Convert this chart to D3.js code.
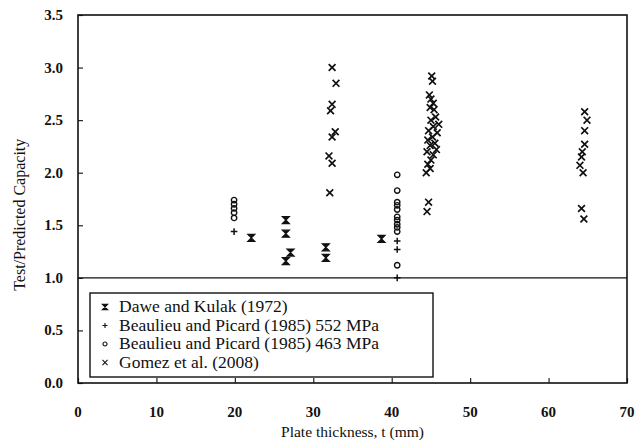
<!DOCTYPE html>
<html>
<head>
<meta charset="utf-8">
<script src="https://cdn.jsdelivr.net/npm/d3@7"></script>
<style>
  body { margin: 0; background: #fff; }
  svg text { font-family: "Liberation Serif", "Times New Roman", serif; fill: #111; }
</style>
</head>
<body>
<svg id="chart" width="640" height="447"></svg>
<script>
// data: [plate thickness (mm), test/predicted capacity]
const daweKulak = [
  [22.1, 1.38], [26.5, 1.55], [26.5, 1.42], [27.1, 1.24], [26.5, 1.16],
  [31.6, 1.29], [31.6, 1.19], [38.7, 1.37]
];
const beaulieu552 = [
  [19.9, 1.44], [40.7, 1.35], [40.7, 1.27], [40.7, 1.00]
];
const beaulieu463 = [
  [19.9, 1.74], [19.9, 1.70], [19.9, 1.66], [19.9, 1.62], [19.9, 1.57],
  [40.7, 1.98], [40.7, 1.83], [40.7, 1.72], [40.7, 1.69], [40.7, 1.65],
  [40.7, 1.58], [40.7, 1.55], [40.7, 1.51], [40.7, 1.48], [40.7, 1.44],
  [40.7, 1.12]
];
const gomez = [
  [32.4, 3.00], [32.9, 2.85], [32.4, 2.65], [32.2, 2.59], [32.8, 2.39],
  [32.4, 2.34], [32.0, 2.16], [32.4, 2.09], [32.1, 1.81],
  [45.1, 2.92], [45.2, 2.87], [44.8, 2.74], [45.0, 2.70], [45.3, 2.66],
  [44.9, 2.62], [45.4, 2.60], [45.6, 2.53], [45.0, 2.50], [46.0, 2.46],
  [45.3, 2.44], [44.7, 2.40], [45.8, 2.38], [45.2, 2.34], [44.6, 2.31],
  [45.5, 2.28], [44.9, 2.26], [45.7, 2.22], [44.5, 2.20], [45.3, 2.17],
  [45.0, 2.12], [44.6, 2.08], [44.9, 2.04], [44.4, 2.00], [44.7, 1.72],
  [44.5, 1.63],
  [64.6, 2.58], [64.9, 2.50], [64.6, 2.40], [64.6, 2.27], [64.3, 2.20],
  [64.2, 2.15], [64.0, 2.07], [64.4, 2.00], [64.2, 1.66], [64.5, 1.56]
];
const xTicks = [0, 10, 20, 30, 40, 50, 60, 70];
const yTicks = [0, 0.5, 1.0, 1.5, 2.0, 2.5, 3.0, 3.5];
const legendLabels = [
  "Dawe and Kulak (1972)",
  "Beaulieu and Picard (1985) 552 MPa",
  "Beaulieu and Picard (1985) 463 MPa",
  "Gomez et al. (2008)"
];

const svg = d3.select("#chart");
const m = { left: 78, right: 627, top: 15, bottom: 383 };

const x = d3.scaleLinear().domain([0, 70]).range([m.left, m.right]);
const y = d3.scaleLinear().domain([0, 3.5]).range([m.bottom, m.top]);

// marker shapes
const shapes = {
  dawe: s => `M${-s},${-s}H${s}L${-s},${s}H${s}Z`,
  plus: s => `M${-s},0H${s}M0,${-s}V${s}`,
  circle: s => `M${s},0A${s},${s} 0 1,1 ${-s},0A${s},${s} 0 1,1 ${s},0Z`,
  cross: s => `M${-s},${-s}L${s},${s}M${s},${-s}L${-s},${s}`
};
const series = [
  { data: daweKulak, shape: "dawe", size: 3.5, fill: "#111", sw: 1.2 },
  { data: beaulieu552, shape: "plus", size: 3.3, fill: "none", sw: 1.5 },
  { data: beaulieu463, shape: "circle", size: 2.7, fill: "none", sw: 1.4 },
  { data: gomez, shape: "cross", size: 3.4, fill: "none", sw: 1.7 }
];

// axes (ticks inward)
svg.append("g").attr("transform", `translate(0,${m.bottom})`)
  .call(d3.axisBottom(x).tickValues(xTicks).tickSizeInner(-5).tickSizeOuter(0).tickFormat(""));
svg.append("g").attr("transform", `translate(${m.left},0)`)
  .call(d3.axisLeft(y).tickValues(yTicks).tickSizeInner(-5).tickSizeOuter(0).tickFormat(""));
svg.selectAll(".domain").remove();
svg.selectAll(".tick line").attr("stroke", "#222").attr("stroke-width", 1.2);

// frame
svg.append("rect")
  .attr("x", m.left).attr("y", m.top)
  .attr("width", m.right - m.left).attr("height", m.bottom - m.top)
  .attr("fill", "none").attr("stroke", "#111").attr("stroke-width", 1.6);

// reference line at 1.0
svg.append("line")
  .attr("x1", x(0)).attr("x2", x(70)).attr("y1", y(1)).attr("y2", y(1))
  .attr("stroke", "#111").attr("stroke-width", 1.4);

// tick labels
svg.selectAll(".xl").data(xTicks).enter().append("text")
  .attr("x", d => x(d)).attr("y", m.bottom + 34)
  .attr("text-anchor", "middle").attr("font-size", 15).attr("font-weight", "bold")
  .text(d => d);
svg.selectAll(".yl").data(yTicks).enter().append("text")
  .attr("x", m.left - 15).attr("y", d => y(d) + 5)
  .attr("text-anchor", "end").attr("font-size", 15).attr("font-weight", "bold")
  .text(d => d.toFixed(1));

// axis titles
svg.append("text").attr("x", x(35)).attr("y", 437)
  .attr("text-anchor", "middle").attr("font-size", 15.5)
  .text("Plate thickness, t (mm)");
svg.append("text").attr("transform", `translate(25,${y(1.6)}) rotate(-90)`)
  .attr("text-anchor", "middle").attr("font-size", 16)
  .text("Test/Predicted Capacity");

// points
series.forEach(s => {
  svg.append("g").selectAll("path").data(s.data).enter().append("path")
    .attr("transform", d => `translate(${x(d[0])},${y(d[1])})`)
    .attr("d", shapes[s.shape](s.size))
    .attr("fill", s.fill).attr("stroke", "#111").attr("stroke-width", s.sw);
});

// legend
const lg = svg.append("g").attr("transform", "translate(90,293)");
lg.append("rect").attr("width", 343).attr("height", 84)
  .attr("fill", "#fff").attr("stroke", "#111").attr("stroke-width", 1.4);
legendLabels.forEach((label, i) => {
  const s = series[i];
  const cy = 14 + i * 18.5;
  lg.append("path").attr("transform", `translate(15,${cy})`)
    .attr("d", shapes[s.shape](s.size * 0.75))
    .attr("fill", s.fill).attr("stroke", "#111").attr("stroke-width", 1.1);
  lg.append("text").attr("x", 29).attr("y", cy + 5)
    .attr("font-size", 17.5).text(label);
});
</script>
</body>
</html>
